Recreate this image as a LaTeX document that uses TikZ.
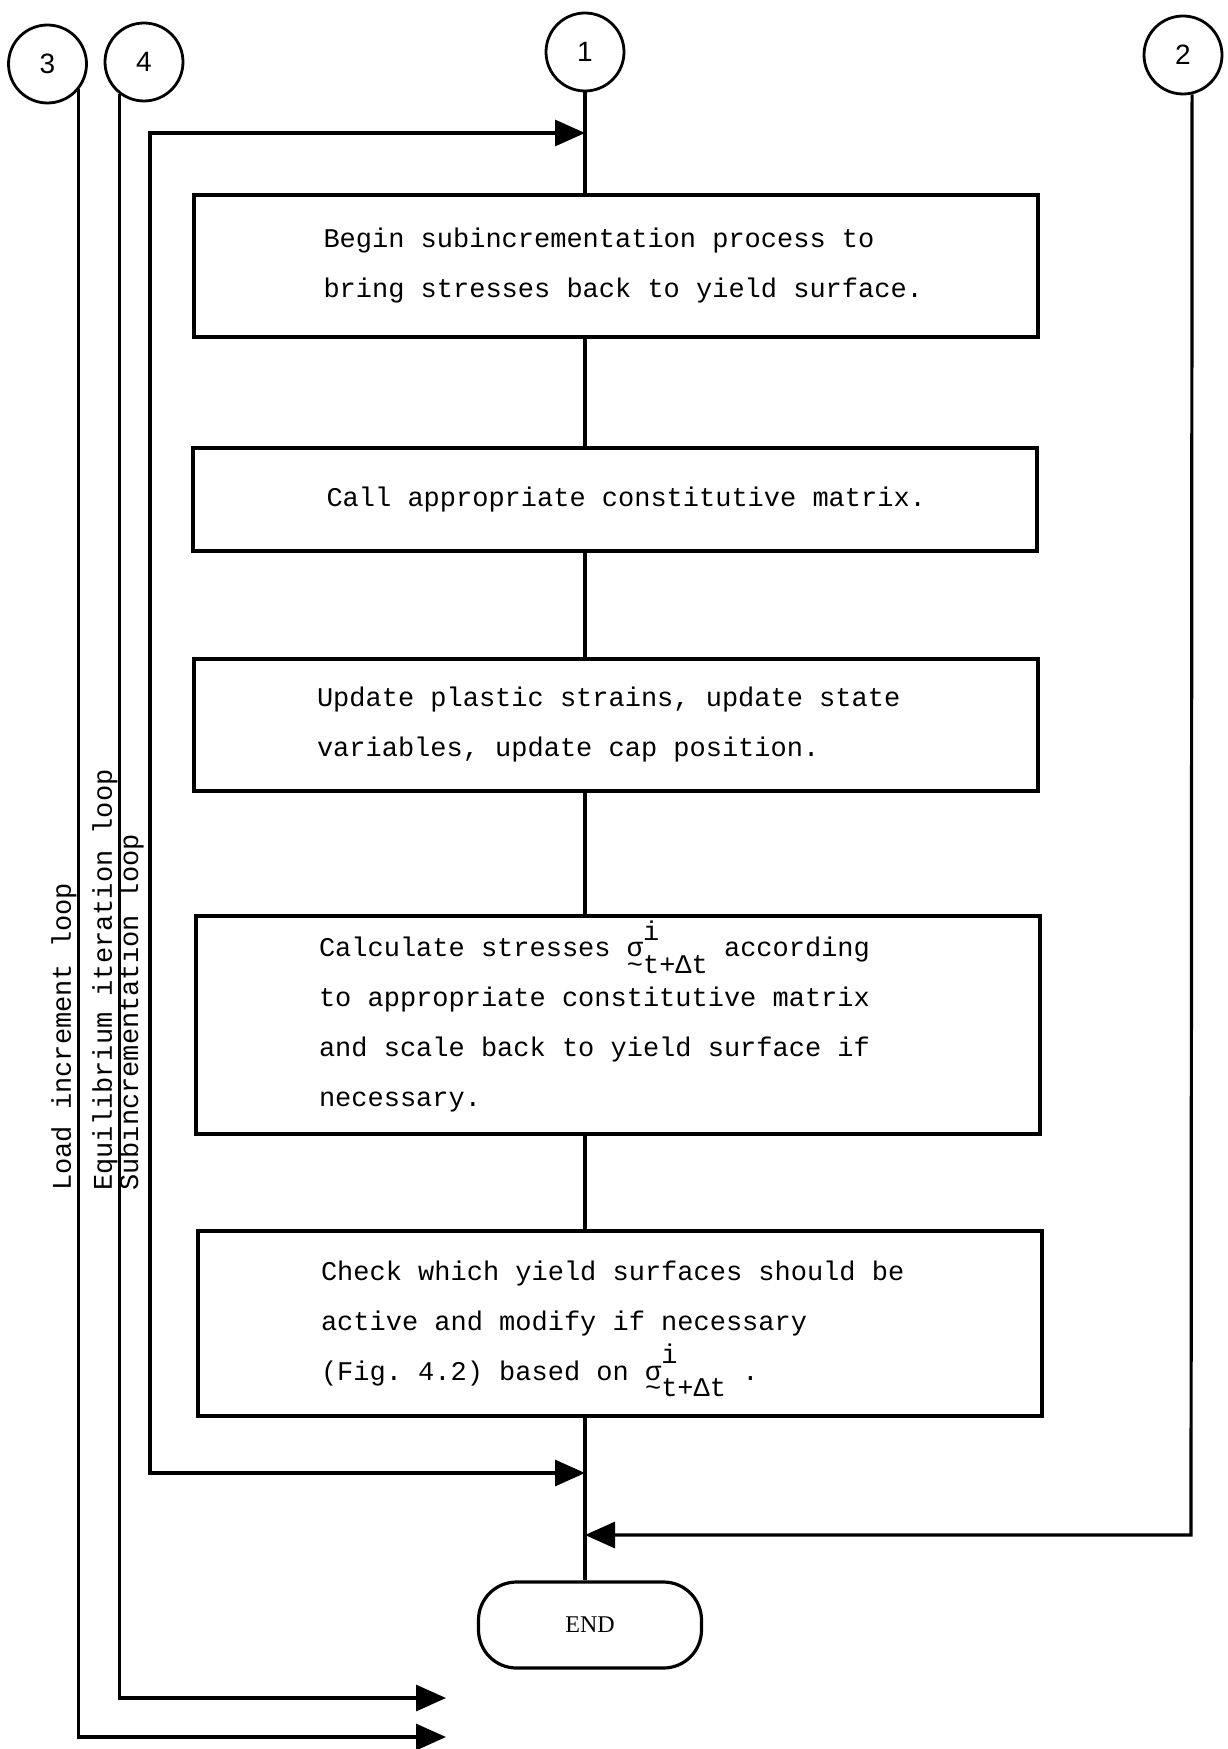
\documentclass[tikz,border=0pt]{standalone}
\usepackage{fontspec}
\setmonofont{Liberation Mono}
\setsansfont{Liberation Sans}
\newfontfamily\endfont{Liberation Serif}
\usepackage{tikz}
\usetikzlibrary{arrows.meta,%
                positioning}

\newcommand{\stressti}{\smash{σ\rlap{\raisebox{0.62em}{i}}\raisebox{-0.6em}{\llap{\textasciitilde}t+Δt}}}

\tikzset{
  procbox/.style={draw, line width=2pt, minimum width=422pt, text width=312pt,
    align=flush left, inner ysep=0pt, font=\ttfamily\fontsize{13.5pt}{25pt}\selectfont,
    execute at begin node={\leftskip=#1}},
  procbox/.default=6.5pt,
  connector/.style={draw, circle, line width=1.4pt, minimum size=39pt, inner sep=0pt,
    font=\sffamily\fontsize{14pt}{16pt}\selectfont},
  endbox/.style={draw, line width=1.6pt, rounded corners=19pt, minimum width=111.5pt,
    minimum height=43pt, font=\endfont\fontsize{12pt}{14pt}\selectfont},
  flowline/.style={line width=1.6pt},
  into/.style={-{Triangle[length=15pt,width=13pt]}},
  loopname/.style={rotate=90, anchor=south west, inner sep=0pt,
    font=\ttfamily\fontsize{13.5pt}{16pt}\selectfont}
}

\begin{document}
\begin{tikzpicture}[x=0.5pt,y=-0.5pt]
\useasboundingbox (0,0) rectangle (1227,1749);

\node[connector] (c3) at (47.5,64) {3};
\node[connector] (c4) at (144,62) {4};
\node[connector] (c1) at (585,52) {1};
\node[connector] (c2) at (1183,55) {2};

\node[procbox=10pt, minimum height=71pt] (box1) at (615.5,266)
  {Begin subincrementation process to\\bring stresses back to yield surface.};
\node[procbox=12pt, minimum height=51.5pt] (box2) at (614.5,499.5)
  {Call appropriate constitutive matrix.};
\node[procbox, minimum height=66pt] (box3) at (616,725)
  {Update plastic strains, update state\\variables, update cap position.};
\node[procbox, minimum height=109pt] (box4) at (618,1025)
  {Calculate stresses \stressti{} according\\to appropriate constitutive matrix\\and scale back to yield surface if\\necessary.};
\node[procbox, minimum height=92.5pt] (box5) at (620,1323.5)
  {Check which yield surfaces should be\\active and modify if necessary\\(Fig. 4.2) based on \stressti{} .};
\node[endbox] (end) at (590,1625) {END};

\draw[flowline] (c1) -- (c1 |- box1.north);
\foreach \a/\b in {box1/box2, box2/box3, box3/box4, box4/box5, box5/end}
  \draw[flowline] (c1 |- \a.south) -- (c1 |- \b.north);

\coordinate (subtop) at (150,133);
\coordinate (subbot) at (150,1473);
\draw[flowline, {Triangle[length=15pt,width=13pt]}-{Triangle[length=15pt,width=13pt]}]
  (subtop -| c1) -- (subtop) -- (subbot) -- (subbot -| c1);

\coordinate (ret2) at (1191,1535);
\draw[flowline, into] (c2.-77) -- (ret2) -- (ret2 -| c1);

\coordinate (out4) at (446,1698);
\coordinate (out3) at (446,1737);
\draw[flowline, into] (c4.-128) |- (out4);
\draw[flowline, into] (c3.-39) |- (out3);

\node[loopname] (lab3) at (77,1191) {Load increment loop};
\node[loopname] (lab4) at (118,1191) {Equilibrium iteration loop};
\node[loopname] (labsub) at (144,1191) {Subincrementation loop};
\end{tikzpicture}
\end{document}
